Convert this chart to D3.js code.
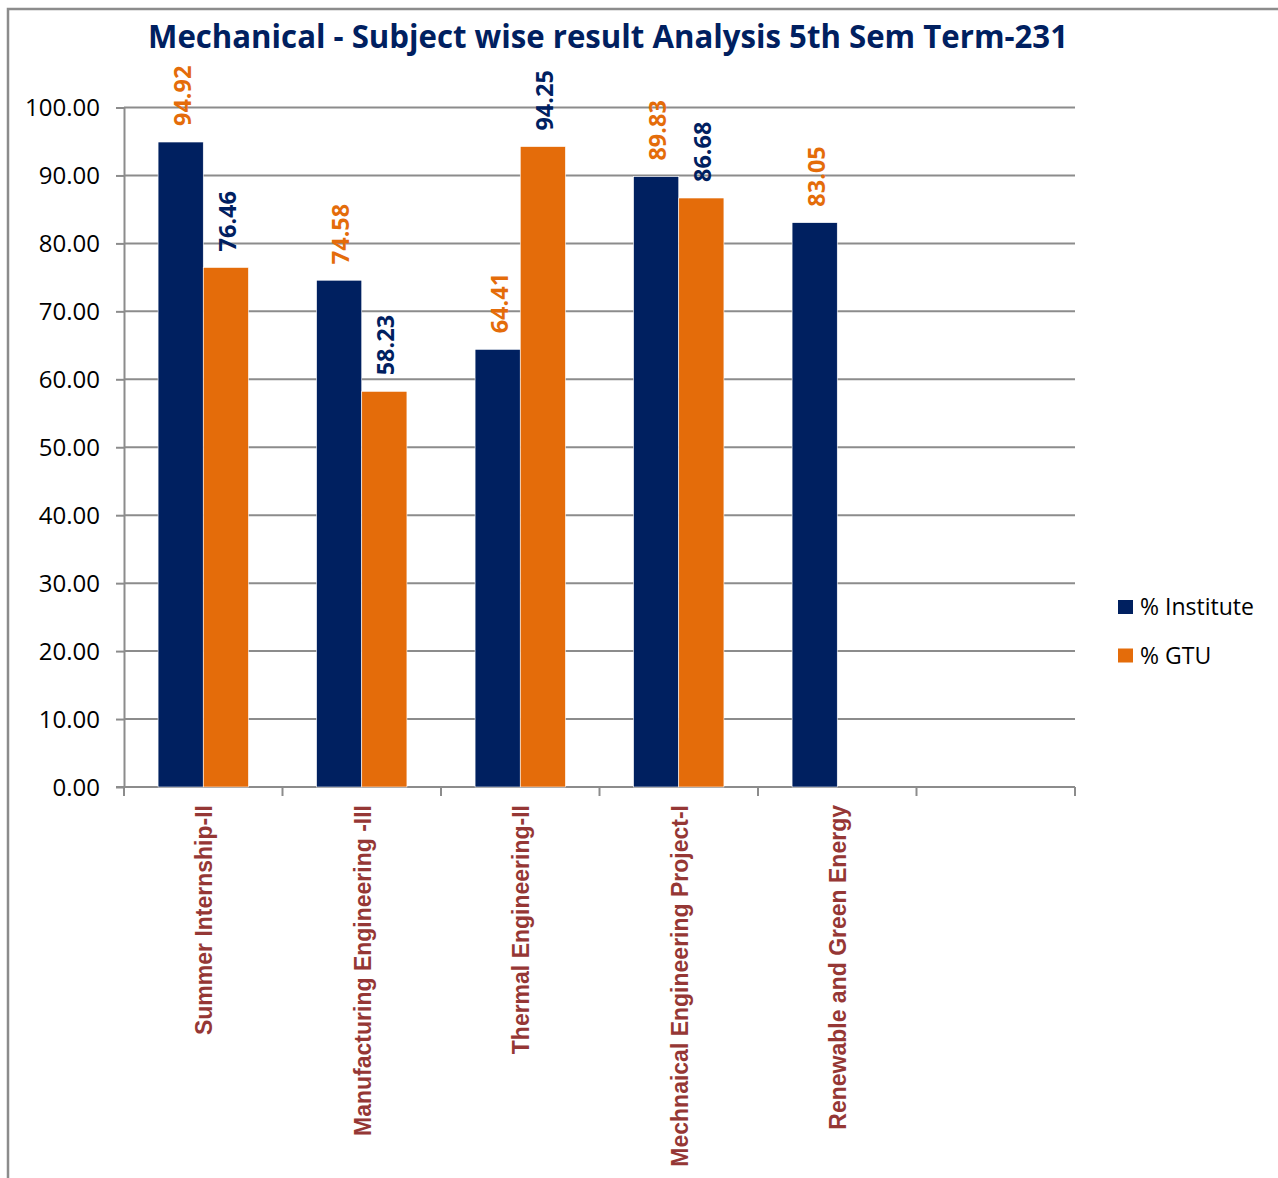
<!DOCTYPE html>
<html lang="en">
<head>
    <meta charset="UTF-8">
    <title>Mechanical - Subject wise result Analysis</title>
    <script src="https://d3js.org/d3.v7.min.js"></script>
    <style>
        body { margin: 0; background: #fff; }
        .grid line { stroke: #8c8c8c; stroke-width: 2px; }
        .axis path, .axis line { stroke: #8c8c8c; stroke-width: 2px; }
        .axis text { font-family: "Open Sans", sans-serif; font-size: 24px; fill: #000; }
    </style>
</head>
<body>
    <div id="chart"></div>

    <script>
        // chart data
        const subjects = [
            'Summer Internship-II',
            'Manufacturing Engineering -III',
            'Thermal Engineering-II',
            'Mechnaical Engineering Project-I',
            'Renewable and Green Energy'
        ];
        const seriesNames = ['% Institute', '% GTU'];
        const institute = [94.92, 74.58, 64.41, 89.83, 83.05];
        const gtu = [76.46, 58.23, 94.25, 86.68, null];
        const yTicks = [0, 10, 20, 30, 40, 50, 60, 70, 80, 90, 100];

        const barColors = ['#002060', '#E46C0A'];
        // labels use the other series' colour, as in the original
        const labelColors = ['#E46C0A', '#002060'];

        const width = 1278, height = 1178;
        const plotLeft = 124, plotRight = 1075, plotTop = 107.5, plotBottom = 787;

        const svg = d3.select('#chart').append('svg')
            .attr('width', width)
            .attr('height', height);

        // outer frame (top and left edges visible)
        svg.append('path')
            .attr('d', `M8,${height} L8,9 L${width},9`)
            .attr('fill', 'none')
            .attr('stroke', '#8c8c8c')
            .attr('stroke-width', 2.5);

        // one extra empty slot at the end, like the original
        const slots = d3.range(subjects.length + 1);
        const x0 = d3.scaleBand().domain(slots).range([plotLeft, plotRight]);
        const bw = x0.bandwidth();
        const x1 = d3.scaleBand().domain([0, 1]).range([bw * 0.215, bw * 0.785]);
        const y = d3.scaleLinear().domain([0, 100]).range([plotBottom, plotTop]);

        // gridlines
        svg.append('g')
            .attr('class', 'grid')
            .selectAll('line')
            .data(yTicks.slice(1))
            .join('line')
            .attr('x1', plotLeft).attr('x2', plotRight)
            .attr('y1', d => y(d)).attr('y2', d => y(d));

        // y axis
        const yAxis = svg.append('g')
            .attr('class', 'axis')
            .attr('transform', `translate(${plotLeft},0)`)
            .call(d3.axisLeft(y).tickValues(yTicks).tickFormat(d3.format('.2f')).tickSize(8).tickSizeOuter(0));
        yAxis.selectAll('text').attr('x', -24).attr('dy', '0.35em');

        // x axis: ticks at band boundaries
        const xa = svg.append('g').attr('class', 'axis');
        xa.append('line')
            .attr('x1', plotLeft - 8).attr('x2', plotRight)
            .attr('y1', plotBottom).attr('y2', plotBottom);
        xa.selectAll('.tick')
            .data(slots.concat([slots.length]))
            .join('line')
            .attr('class', 'tick')
            .attr('x1', d => d < slots.length ? x0(d) : plotRight)
            .attr('x2', d => d < slots.length ? x0(d) : plotRight)
            .attr('y1', plotBottom).attr('y2', plotBottom + 9);

        const rows = [];
        subjects.forEach((s, i) => {
            [institute[i], gtu[i]].forEach((v, k) => {
                if (v != null) rows.push({ i: i, k: k, v: v });
            });
        });

        // bars
        svg.append('g')
            .selectAll('rect')
            .data(rows)
            .join('rect')
            .attr('x', d => x0(d.i) + x1(d.k))
            .attr('width', x1.bandwidth())
            .attr('y', d => y(d.v))
            .attr('height', d => plotBottom - y(d.v))
            .attr('fill', d => barColors[d.k])
            .attr('stroke', '#fff')
            .attr('stroke-width', 0.6);

        // value labels
        svg.append('g')
            .selectAll('text')
            .data(rows)
            .join('text')
            .attr('transform', d => `translate(${x0(d.i) + x1(d.k) + x1.bandwidth() / 2 + 1},${y(d.v) - 16}) rotate(-90)`)
            .attr('dominant-baseline', 'central')
            .style('font-family', '"Open Sans", sans-serif')
            .style('font-weight', 'bold')
            .style('font-size', '23.5px')
            .attr('fill', d => labelColors[d.k])
            .text(d => d.v.toFixed(2));

        // category labels
        svg.append('g')
            .selectAll('text')
            .data(subjects)
            .join('text')
            .attr('transform', (d, i) => `translate(${x0(i) + bw / 2 + 1},805) rotate(-90)`)
            .attr('text-anchor', 'end')
            .attr('dominant-baseline', 'central')
            .style('font-family', '"Liberation Sans", Arial, sans-serif')
            .style('font-weight', 'bold')
            .style('font-size', '23px')
            .attr('fill', '#953735')
            .text(d => d);

        // title
        svg.append('text')
            .attr('x', 608)
            .attr('y', 48)
            .attr('text-anchor', 'middle')
            .attr('textLength', 920)
            .attr('lengthAdjust', 'spacingAndGlyphs')
            .style('font-family', '"Open Sans", sans-serif')
            .style('font-weight', 'bold')
            .style('font-size', '33px')
            .attr('fill', '#002060')
            .text('Mechanical - Subject wise result Analysis 5th Sem Term-231');

        // legend
        const legend = svg.append('g')
            .selectAll('g')
            .data(seriesNames)
            .join('g')
            .attr('transform', (d, i) => `translate(1118,${600 + i * 48.5})`);
        legend.append('rect')
            .attr('width', 15).attr('height', 14)
            .attr('fill', (d, i) => barColors[i]);
        legend.append('text')
            .attr('x', 22)
            .attr('y', 7)
            .attr('dy', '0.35em')
            .style('font-family', '"Open Sans", sans-serif')
            .style('font-size', '23px')
            .attr('fill', '#000')
            .text(d => d);
    </script>
</body>
</html>
